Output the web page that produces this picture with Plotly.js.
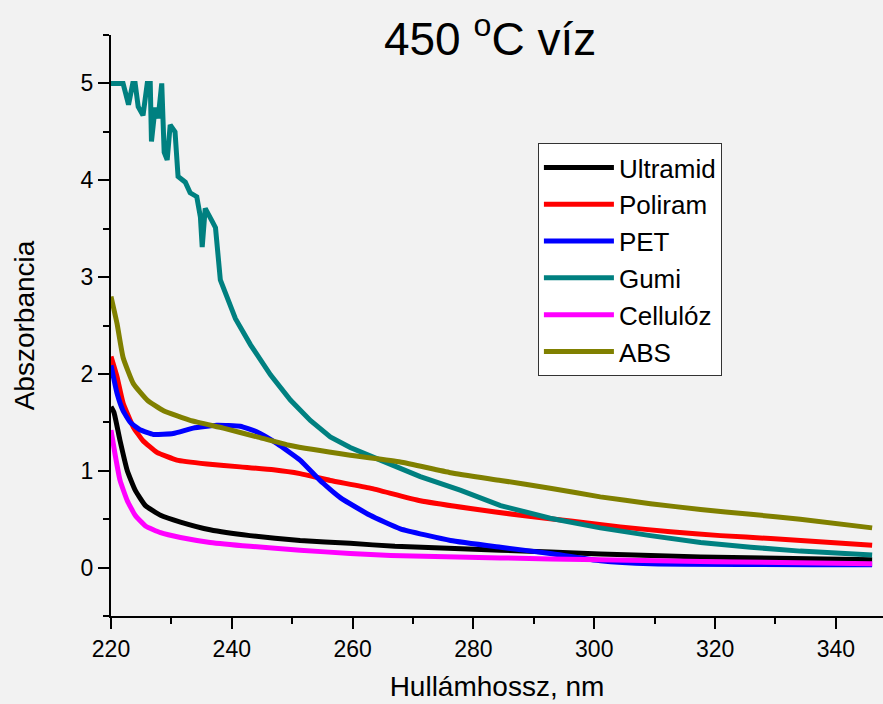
<!DOCTYPE html>
<html>
<head>
<meta charset="utf-8">
<script src="https://cdn.plot.ly/plotly-3.0.1.min.js"></script>
<style>html,body{margin:0;padding:0;background:#f2f2f2;}</style>
</head>
<body>
<div id="chart" style="width:883px;height:704px;"></div>
<script>
const seriesNames = ["Ultramid", "Poliram", "PET", "Gumi", "Cellulóz", "ABS"];
const seriesColors = ["#000000", "#ff0000", "#0000ff", "#008080", "#ff00ff", "#808000"];

const ultramidX = [220, 220.5, 221.5, 222.7, 224, 225.7, 228.2, 231.5, 236.4, 243, 251.3, 259.6, 267, 284.5, 301, 317.6, 346];
const ultramidY = [1.66, 1.6, 1.31, 1.0, 0.8, 0.64, 0.54, 0.47, 0.39, 0.33, 0.28, 0.25, 0.22, 0.18, 0.14, 0.11, 0.08];

const poliramX = [220, 221, 222, 223.7, 225.3, 227.6, 230.9, 235.9, 241.4, 246.9, 251.3, 256.3, 262.9, 271.2, 279.5, 287.8, 296.1, 304.3, 312.6, 320.9, 329.2, 346];
const poliramY = [2.18, 1.97, 1.7, 1.45, 1.31, 1.19, 1.11, 1.07, 1.04, 1.01, 0.97, 0.9, 0.82, 0.69, 0.61, 0.54, 0.48, 0.42, 0.37, 0.33, 0.3, 0.23];

const petX = [220, 221, 222, 223.2, 224.9, 227, 230.3, 233.6, 237.5, 241.4, 244.2, 247.5, 251.3, 254.6, 258, 262.9, 267.9, 276.2, 284.5, 292.7, 301, 309.3, 346];
const petY = [2.09, 1.8, 1.62, 1.5, 1.42, 1.375, 1.385, 1.44, 1.47, 1.46, 1.4, 1.28, 1.11, 0.9, 0.72, 0.54, 0.4, 0.28, 0.21, 0.145, 0.07, 0.04, 0.03];

const gumiX = [220, 222, 222.9, 223.6, 224, 224.5, 225.3, 226, 226.5, 226.7, 227.3, 227.8, 228.4, 228.8, 229.3, 229.8, 230.6, 231.1, 232.3, 233.1, 234.2, 234.8, 235.1, 235.6, 236.8, 237.3, 238.1, 240.6, 243.1, 246.4, 249.7, 253, 256.3, 259.6, 264.6, 271.2, 277.8, 284.5, 292.7, 301, 309.3, 317.6, 325.9, 334.1, 346];
const gumiY = [5.0, 5.0, 4.78, 5.0, 5.0, 4.76, 4.67, 5.0, 5.0, 4.4, 4.75, 4.64, 5.0, 4.29, 4.21, 4.57, 4.5, 4.04, 3.98, 3.87, 3.83, 3.62, 3.31, 3.71, 3.57, 3.51, 2.97, 2.57, 2.3, 1.99, 1.73, 1.52, 1.35, 1.24, 1.11, 0.94, 0.8, 0.64, 0.51, 0.41, 0.33, 0.26, 0.21, 0.17, 0.13];

const cellulozX = [220, 220.7, 221.5, 222.7, 224, 225.7, 228.2, 231.5, 236.4, 243, 251.3, 259.6, 266.3, 284.5, 301, 320, 346];
const cellulozY = [1.42, 1.16, 0.9, 0.69, 0.54, 0.43, 0.36, 0.31, 0.26, 0.22, 0.18, 0.145, 0.125, 0.1, 0.08, 0.06, 0.04];

const absX = [220, 221, 222, 223.7, 226, 228.7, 233.1, 238.6, 244.2, 249.7, 259.6, 267.9, 276.2, 284.5, 292.7, 301, 309.3, 317.6, 325.9, 334.1, 346];
const absY = [2.8, 2.52, 2.17, 1.9, 1.73, 1.62, 1.52, 1.44, 1.35, 1.26, 1.16, 1.09, 0.98, 0.9, 0.82, 0.73, 0.66, 0.6, 0.55, 0.5, 0.41];

const xs = [ultramidX, poliramX, petX, gumiX, cellulozX, absX];
const ys = [ultramidY, poliramY, petY, gumiY, cellulozY, absY];

const xTickVals = [220, 240, 260, 280, 300, 320, 340];
const yTickVals = [0, 1, 2, 3, 4, 5];

const traces = seriesNames.map((n, i) => ({
  type: 'scatter', mode: 'lines', name: n,
  x: xs[i], y: ys[i],
  line: {color: seriesColors[i], width: 5, shape: 'spline', smoothing: 0.4}
}));
traces[3].line.shape = 'linear';

const font = "Arial, 'Liberation Sans', sans-serif";
const layout = {
  width: 883, height: 704,
  paper_bgcolor: '#f2f2f2', plot_bgcolor: '#f2f2f2',
  margin: {l: 111, r: 0, t: 35, b: 88},
  font: {family: font, color: '#000'},
  title: {text: '450 <sup>o</sup>C víz', font: {family: font, size: 46, color: '#000'}, x: 0.555, xanchor: 'center', y: 0.945, yanchor: 'middle'},
  showlegend: true,
  legend: {x: 0.553, y: 0.814, xanchor: 'left', yanchor: 'top', bgcolor: '#ffffff', bordercolor: '#333333', borderwidth: 1, font: {family: font, size: 26, color: '#000'}, tracegroupgap: 0, itemwidth: 70},
  xaxis: {
    range: [220, 347.8], showgrid: false, zeroline: false,
    showline: true, linecolor: '#000', linewidth: 2,
    ticks: 'outside', ticklen: 11, tickwidth: 2, tickcolor: '#000',
    tickvals: xTickVals, ticktext: xTickVals.map(String),
    tickfont: {family: font, size: 23, color: '#000'},
    minor: {dtick: 10, tick0: 220, ticks: 'outside', ticklen: 6, tickwidth: 2, tickcolor: '#000', showgrid: false},
    title: {text: 'Hullámhossz, nm', font: {family: font, size: 28, color: '#000'}, standoff: 16}
  },
  yaxis: {
    range: [-0.5, 5.5], showgrid: false, zeroline: false,
    showline: true, linecolor: '#000', linewidth: 2,
    ticks: 'outside', ticklen: 11, tickwidth: 2, tickcolor: '#000',
    tickvals: yTickVals, ticktext: yTickVals.map(String),
    tickfont: {family: font, size: 23, color: '#000'},
    minor: {dtick: 0.5, tick0: 0, ticks: 'outside', ticklen: 6, tickwidth: 2, tickcolor: '#000', showgrid: false},
    title: {text: 'Abszorbancia', font: {family: font, size: 28, color: '#000'}, standoff: 38}
  }
};
Plotly.newPlot('chart', traces, layout, {displayModeBar: false, staticPlot: true});
</script>
</body>
</html>
